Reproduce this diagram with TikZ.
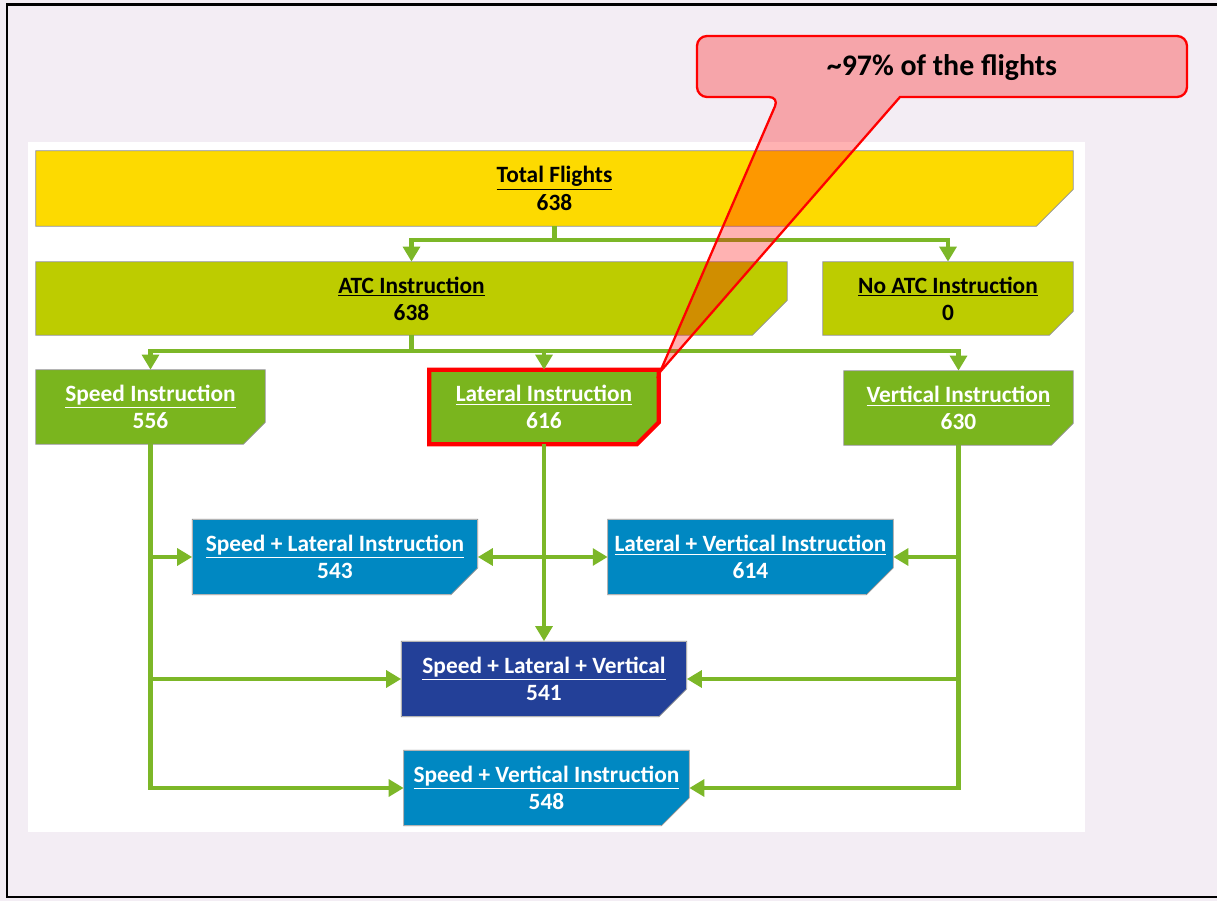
\documentclass[tikz,border=0pt]{standalone}
\usepackage{fontspec}
\setmainfont{Carlito}
\usetikzlibrary{arrows.meta}

\definecolor{flyellow}{RGB}{253,218,0}
\definecolor{atcgreen}{RGB}{189,204,0}
\definecolor{insgreen}{RGB}{122,181,30}
\definecolor{combblue}{RGB}{0,136,194}
\definecolor{alldark}{RGB}{35,64,152}
\definecolor{arrowgreen}{RGB}{124,183,40}
\definecolor{bglav}{RGB}{243,237,244}

\begin{document}
\begin{tikzpicture}[
  x=0.02cm, y=-0.02cm,
  box/.style={rectangle, align=center, inner sep=0pt,
              font=\bfseries\fontsize{13.3}{15.5}\selectfont},
  tbox/.style={box, fill=flyellow, minimum height=1.5cm},
  abox/.style={box, fill=atcgreen, minimum height=1.46cm},
  gbox/.style={box, fill=insgreen, text=white, minimum width=4.58cm,
               minimum height=1.48cm},
  bbox/.style={box, fill=combblue, text=white, minimum width=5.7cm,
               minimum height=1.5cm},
  rim/.style={draw=black!45, line width=0.4pt},
  mark box/.style={draw=red, line width=2.4pt},
  link/.style={draw=arrowgreen, line width=2.7pt},
  flow/.style={link, -{Triangle[length=8.5pt,width=9.5pt]}},
  both/.style={link, {Triangle[length=8.5pt,width=9.5pt]}-{Triangle[length=8.5pt,width=9.5pt]}},
  callout/.style={fill=red, fill opacity=0.3, draw=red, line width=1.3pt},
]
  \useasboundingbox (0,0) rectangle (1217,901);
  \fill[bglav] (0,0) rectangle (1217,901);
  \draw[line width=1.7pt] (7,5) rectangle (1240,897);
  \fill[white] (28,142) rectangle (1085,832);

  % boxes
  \node[tbox, minimum width=20.74cm] (total) at (554.5,188.5)
    {\underline{Total Flights}\\638};
  \node[abox, minimum width=15.02cm] (atc) at (411.5,298.5)
    {\underline{ATC Instruction}\\638};
  \node[abox, minimum width=5cm] (noatc) at (948,298.5)
    {\underline{No ATC Instruction}\\0};
  \node[gbox] (speed) at (150.5,407) {\underline{Speed Instruction}\\556};
  \node[gbox] (lateral) at (544,407) {\underline{Lateral Instruction}\\616};
  \node[gbox] (vertical) at (958.5,408) {\underline{Vertical Instruction}\\630};
  \node[bbox] (spdlat) at (335,557) {\underline{Speed + Lateral Instruction}\\543};
  \node[bbox] (latvert) at (750.5,557) {\underline{Lateral + Vertical Instruction}\\614};
  \node[bbox, fill=alldark] (spdlatvert) at (544,679)
    {\underline{Speed + Lateral + Vertical}\\541};
  \node[bbox] (spdvert) at (546.5,788) {\underline{Speed + Vertical Instruction}\\548};

  % cut corners
  \foreach \n/\c in {total/0.74cm, atc/0.7cm, noatc/0.48cm, speed/0.44cm,
                     lateral/0.44cm, vertical/0.44cm, spdlat/0.54cm,
                     latvert/0.54cm, spdlatvert/0.56cm, spdvert/0.56cm}{
    \fill[white] (\n.south east) -- ++(-\c,0cm) -- ++(\c,\c) -- cycle;
    \draw[rim] (\n.north west) -- (\n.north east) -- ([yshift=\c]\n.south east)
      -- ([xshift=-\c]\n.south east) -- (\n.south west) -- cycle;
  }
  \draw[mark box] (lateral.north west) -- (lateral.north east)
    -- ([yshift=0.44cm]lateral.south east) -- ([xshift=-0.44cm]lateral.south east)
    -- (lateral.south west) -- cycle;

  % connectors
  \coordinate (split1) at (554.5,240);
  \coordinate (split2) at (411.5,351);
  \draw[link] (total.south) -- (split1);
  \draw[flow] (split1) -| (atc.north);
  \draw[flow] (split1) -| (noatc.north);
  \draw[link] (atc.south) -- (split2);
  \draw[flow] (split2) -| (speed.north);
  \draw[flow] (split2) -| (lateral.north);
  \draw[flow] (split2) -| (vertical.north);

  \draw[flow] (speed.south) |- (spdvert.west);
  \draw[flow] (speed.south |- spdlat.west) -- (spdlat.west);
  \draw[flow] (speed.south |- spdlatvert.west) -- (spdlatvert.west);
  \draw[flow] (vertical.south) |- (spdvert.east);
  \draw[flow] (vertical.south |- latvert.east) -- (latvert.east);
  \draw[flow] (vertical.south |- spdlatvert.east) -- (spdlatvert.east);
  \draw[flow] (lateral.south) -- (spdlatvert.north);
  \draw[both] (spdlat.east) -- (latvert.west);

  % callout
  \filldraw[callout] (779,97) -- (660,372) -- (900,97) [rounded corners=0.2cm]
    -- (1187,97) -- (1187,36) -- (697,36) -- (697,97) -- cycle;
  \node[font=\bfseries\fontsize{17}{19}\selectfont] (note) at (942,68)
    {\textasciitilde97\% of the flights};
\end{tikzpicture}
\end{document}
